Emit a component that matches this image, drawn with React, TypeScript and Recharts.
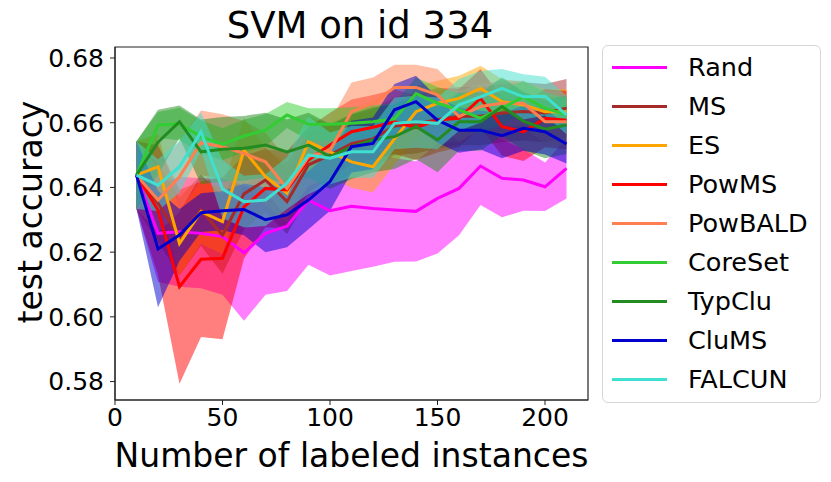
import { Area, ComposedChart, Label, Line, ReferenceArea, XAxis, YAxis } from "recharts";

// number of labeled instances (x axis)
const budgets = [10, 20, 30, 40, 50, 60, 70, 80, 90, 100, 110, 120, 130, 140, 150, 160, 170, 180, 190, 200, 210];

// mean test accuracy per method, and half-width of the shaded band
const randMean = [0.6438, 0.6258, 0.6263, 0.6258, 0.6248, 0.6198, 0.6258, 0.628, 0.6361, 0.6328, 0.6342, 0.6335, 0.633, 0.6326, 0.6366, 0.6397, 0.6466, 0.6428, 0.6423, 0.6402, 0.6459];
const randSpread = [0.0105, 0.015, 0.017, 0.017, 0.018, 0.021, 0.019, 0.02, 0.02, 0.02, 0.02, 0.018, 0.016, 0.0155, 0.017, 0.0145, 0.012, 0.012, 0.0095, 0.0075, 0.0093];

const msMean = [0.6438, 0.6351, 0.6248, 0.633, 0.6253, 0.638, 0.6423, 0.6356, 0.647, 0.65, 0.6535, 0.655, 0.659, 0.6595, 0.661, 0.662, 0.662, 0.663, 0.6635, 0.663, 0.6645];
const msSpread = [0.0105, 0.012, 0.012, 0.011, 0.012, 0.011, 0.01, 0.01, 0.01, 0.009, 0.009, 0.009, 0.009, 0.009, 0.009, 0.009, 0.009, 0.009, 0.009, 0.009, 0.009];

const esMean = [0.6438, 0.6464, 0.6227, 0.6325, 0.6294, 0.6515, 0.6433, 0.6382, 0.6541, 0.651, 0.6479, 0.6464, 0.655, 0.6634, 0.666, 0.6675, 0.6706, 0.6665, 0.6655, 0.6634, 0.6634];
const esSpread = [0.0105, 0.01, 0.01, 0.01, 0.01, 0.01, 0.009, 0.009, 0.008, 0.008, 0.008, 0.008, 0.008, 0.008, 0.007, 0.007, 0.007, 0.007, 0.007, 0.007, 0.007];

const powMsMean = [0.6438, 0.633, 0.6093, 0.6178, 0.6181, 0.634, 0.6397, 0.6392, 0.6485, 0.6531, 0.6572, 0.6586, 0.6603, 0.6585, 0.6608, 0.6614, 0.6675, 0.6588, 0.6572, 0.6614, 0.6608];
const powMsSpread = [0.0105, 0.02, 0.03, 0.024, 0.025, 0.016, 0.012, 0.012, 0.01, 0.01, 0.01, 0.01, 0.01, 0.01, 0.01, 0.009, 0.009, 0.009, 0.009, 0.009, 0.009];

const powBaldMean = [0.6438, 0.6361, 0.6433, 0.6538, 0.6526, 0.6505, 0.6479, 0.6397, 0.6495, 0.6515, 0.6634, 0.666, 0.6709, 0.6709, 0.6686, 0.6619, 0.665, 0.666, 0.666, 0.6603, 0.6603];
const powBaldSpread = [0.0105, 0.01, 0.011, 0.01, 0.01, 0.01, 0.009, 0.009, 0.009, 0.009, 0.009, 0.008, 0.007, 0.007, 0.008, 0.008, 0.007, 0.007, 0.007, 0.007, 0.007];

const coreSetMean = [0.6438, 0.6593, 0.6596, 0.6557, 0.6534, 0.6559, 0.6577, 0.6624, 0.6595, 0.6595, 0.6598, 0.6603, 0.6612, 0.669, 0.666, 0.664, 0.6614, 0.6645, 0.668, 0.6645, 0.6625];
const coreSetSpread = [0.0105, 0.004, 0.005, 0.005, 0.005, 0.005, 0.005, 0.004, 0.005, 0.005, 0.005, 0.005, 0.005, 0.005, 0.005, 0.005, 0.005, 0.005, 0.005, 0.005, 0.005];

const typCluMean = [0.6438, 0.654, 0.6603, 0.651, 0.6518, 0.6521, 0.6531, 0.651, 0.6531, 0.6495, 0.6526, 0.6547, 0.6557, 0.6588, 0.6547, 0.6603, 0.6603, 0.665, 0.6605, 0.658, 0.6593];
const typCluSpread = [0.0105, 0.01, 0.005, 0.01, 0.01, 0.01, 0.01, 0.01, 0.01, 0.01, 0.01, 0.01, 0.01, 0.01, 0.01, 0.009, 0.009, 0.009, 0.009, 0.009, 0.009];

const cluMsMean = [0.6438, 0.621, 0.6253, 0.6322, 0.6328, 0.6332, 0.63, 0.6315, 0.6361, 0.6418, 0.6526, 0.6536, 0.664, 0.6665, 0.6608, 0.6577, 0.6577, 0.656, 0.6583, 0.6572, 0.6534];
const cluMsSpread = [0.0105, 0.018, 0.008, 0.006, 0.006, 0.008, 0.01, 0.01, 0.009, 0.009, 0.008, 0.008, 0.008, 0.008, 0.007, 0.007, 0.006, 0.007, 0.007, 0.007, 0.006];

const falcunMean = [0.6438, 0.6407, 0.6464, 0.6572, 0.6395, 0.6356, 0.6361, 0.6413, 0.65, 0.649, 0.651, 0.651, 0.6598, 0.6603, 0.6598, 0.6655, 0.668, 0.6706, 0.668, 0.6682, 0.6624];
const falcunSpread = [0.0105, 0.008, 0.008, 0.006, 0.009, 0.008, 0.008, 0.008, 0.012, 0.008, 0.008, 0.008, 0.008, 0.008, 0.008, 0.008, 0.008, 0.006, 0.007, 0.006, 0.006];

const xTicks = [0, 50, 100, 150, 200];
const yTicks = [0.58, 0.6, 0.62, 0.64, 0.66, 0.68];

const methods = [
  { key: "rand", name: "Rand", color: "#ff00ff", mean: randMean, spread: randSpread },
  { key: "ms", name: "MS", color: "#a52a2a", mean: msMean, spread: msSpread },
  { key: "es", name: "ES", color: "#ffa500", mean: esMean, spread: esSpread },
  { key: "powms", name: "PowMS", color: "#ff0000", mean: powMsMean, spread: powMsSpread },
  { key: "powbald", name: "PowBALD", color: "#ff7f50", mean: powBaldMean, spread: powBaldSpread },
  { key: "coreset", name: "CoreSet", color: "#32cd32", mean: coreSetMean, spread: coreSetSpread },
  { key: "typclu", name: "TypClu", color: "#228b22", mean: typCluMean, spread: typCluSpread },
  { key: "clums", name: "CluMS", color: "#0000cd", mean: cluMsMean, spread: cluMsSpread },
  { key: "falcun", name: "FALCUN", color: "#40e0d0", mean: falcunMean, spread: falcunSpread },
];

const rows = budgets.map((x, i) => {
  const row: Record<string, number | number[]> = { x };
  methods.forEach((m) => {
    row[m.key] = m.mean[i];
    row[m.key + "Band"] = [m.mean[i] - m.spread[i], m.mean[i] + m.spread[i]];
  });
  return row;
});

const FONT = "DejaVu Sans, sans-serif";
const X_DOMAIN: [number, number] = [0, 220];
const Y_DOMAIN: [number, number] = [0.5743, 0.6834];

// legend drawn as a plain overlay so it does not shrink the plot area
function LegendBox() {
  return (
    <div
      style={{
        position: "absolute",
        left: 602,
        top: 45,
        width: 217,
        height: 356,
        border: "1.3px solid #d6d6d6",
        borderRadius: 6,
        background: "#fff",
        fontFamily: FONT,
        fontSize: 25.5,
      }}
    >
      {methods.map((m, i) => (
        <div key={m.key} style={{ position: "absolute", left: 0, top: 21 + i * 39 - 15, height: 30, width: 217 }}>
          <div style={{ position: "absolute", left: 9, top: 13.5, width: 55, height: 3, background: m.color }} />
          <div style={{ position: "absolute", left: 85, top: 0, lineHeight: "30px", color: "#000" }}>{m.name}</div>
        </div>
      ))}
    </div>
  );
}

export default function App() {
  return (
    <div style={{ position: "absolute", left: 0, top: 0, width: 831, height: 482, background: "#fff" }}>
      <ComposedChart
        width={831}
        height={482}
        data={rows}
        margin={{ top: 47, right: 243, bottom: 0, left: 0 }}
        style={{ fontFamily: FONT }}
      >
        <XAxis
          dataKey="x"
          type="number"
          domain={X_DOMAIN}
          ticks={xTicks}
          height={82}
          tickSize={5}
          tickMargin={3}
          tick={{ fill: "#000", fontSize: 25 }}
          stroke="#222"
          allowDataOverflow
        >
          <Label
            content={() => (
              <text x={351.5} y={467} textAnchor="middle" fontSize={33} fill="#000" fontFamily={FONT}>
                Number of labeled instances
              </text>
            )}
          />
        </XAxis>
        <YAxis
          type="number"
          domain={Y_DOMAIN}
          ticks={yTicks}
          width={115}
          tickSize={5}
          tickMargin={6}
          tickFormatter={(v: number) => v.toFixed(2)}
          tick={{ fill: "#000", fontSize: 25 }}
          stroke="#222"
          allowDataOverflow
        >
          <Label
            content={() => (
              <g>
                <text
                  x={30}
                  y={212}
                  transform="rotate(-90 30 212)"
                  textAnchor="middle"
                  dominantBaseline="central"
                  fontSize={33}
                  fill="#000"
                  fontFamily={FONT}
                >
                  test accuracy
                </text>
                <text x={360} y={38} textAnchor="middle" fontSize={37} fill="#000" fontFamily={FONT}>
                  SVM on id 334
                </text>
              </g>
            )}
          />
        </YAxis>
        {methods.map((m) => [
          <Area
            key={m.key + "Band"}
            type="linear"
            dataKey={m.key + "Band"}
            stroke="none"
            fill={m.color}
            fillOpacity={0.5}
            isAnimationActive={false}
            legendType="none"
          />,
          <Line
            key={m.key}
            type="linear"
            dataKey={m.key}
            name={m.name}
            stroke={m.color}
            strokeWidth={3}
            dot={false}
            activeDot={false}
            isAnimationActive={false}
          />,
        ])}
        <ReferenceArea
          x1={X_DOMAIN[0]}
          x2={X_DOMAIN[1]}
          y1={Y_DOMAIN[0]}
          y2={Y_DOMAIN[1]}
          fill="none"
          stroke="#222"
          strokeWidth={1.2}
          ifOverflow="visible"
        />
      </ComposedChart>
      <LegendBox />
    </div>
  );
}
